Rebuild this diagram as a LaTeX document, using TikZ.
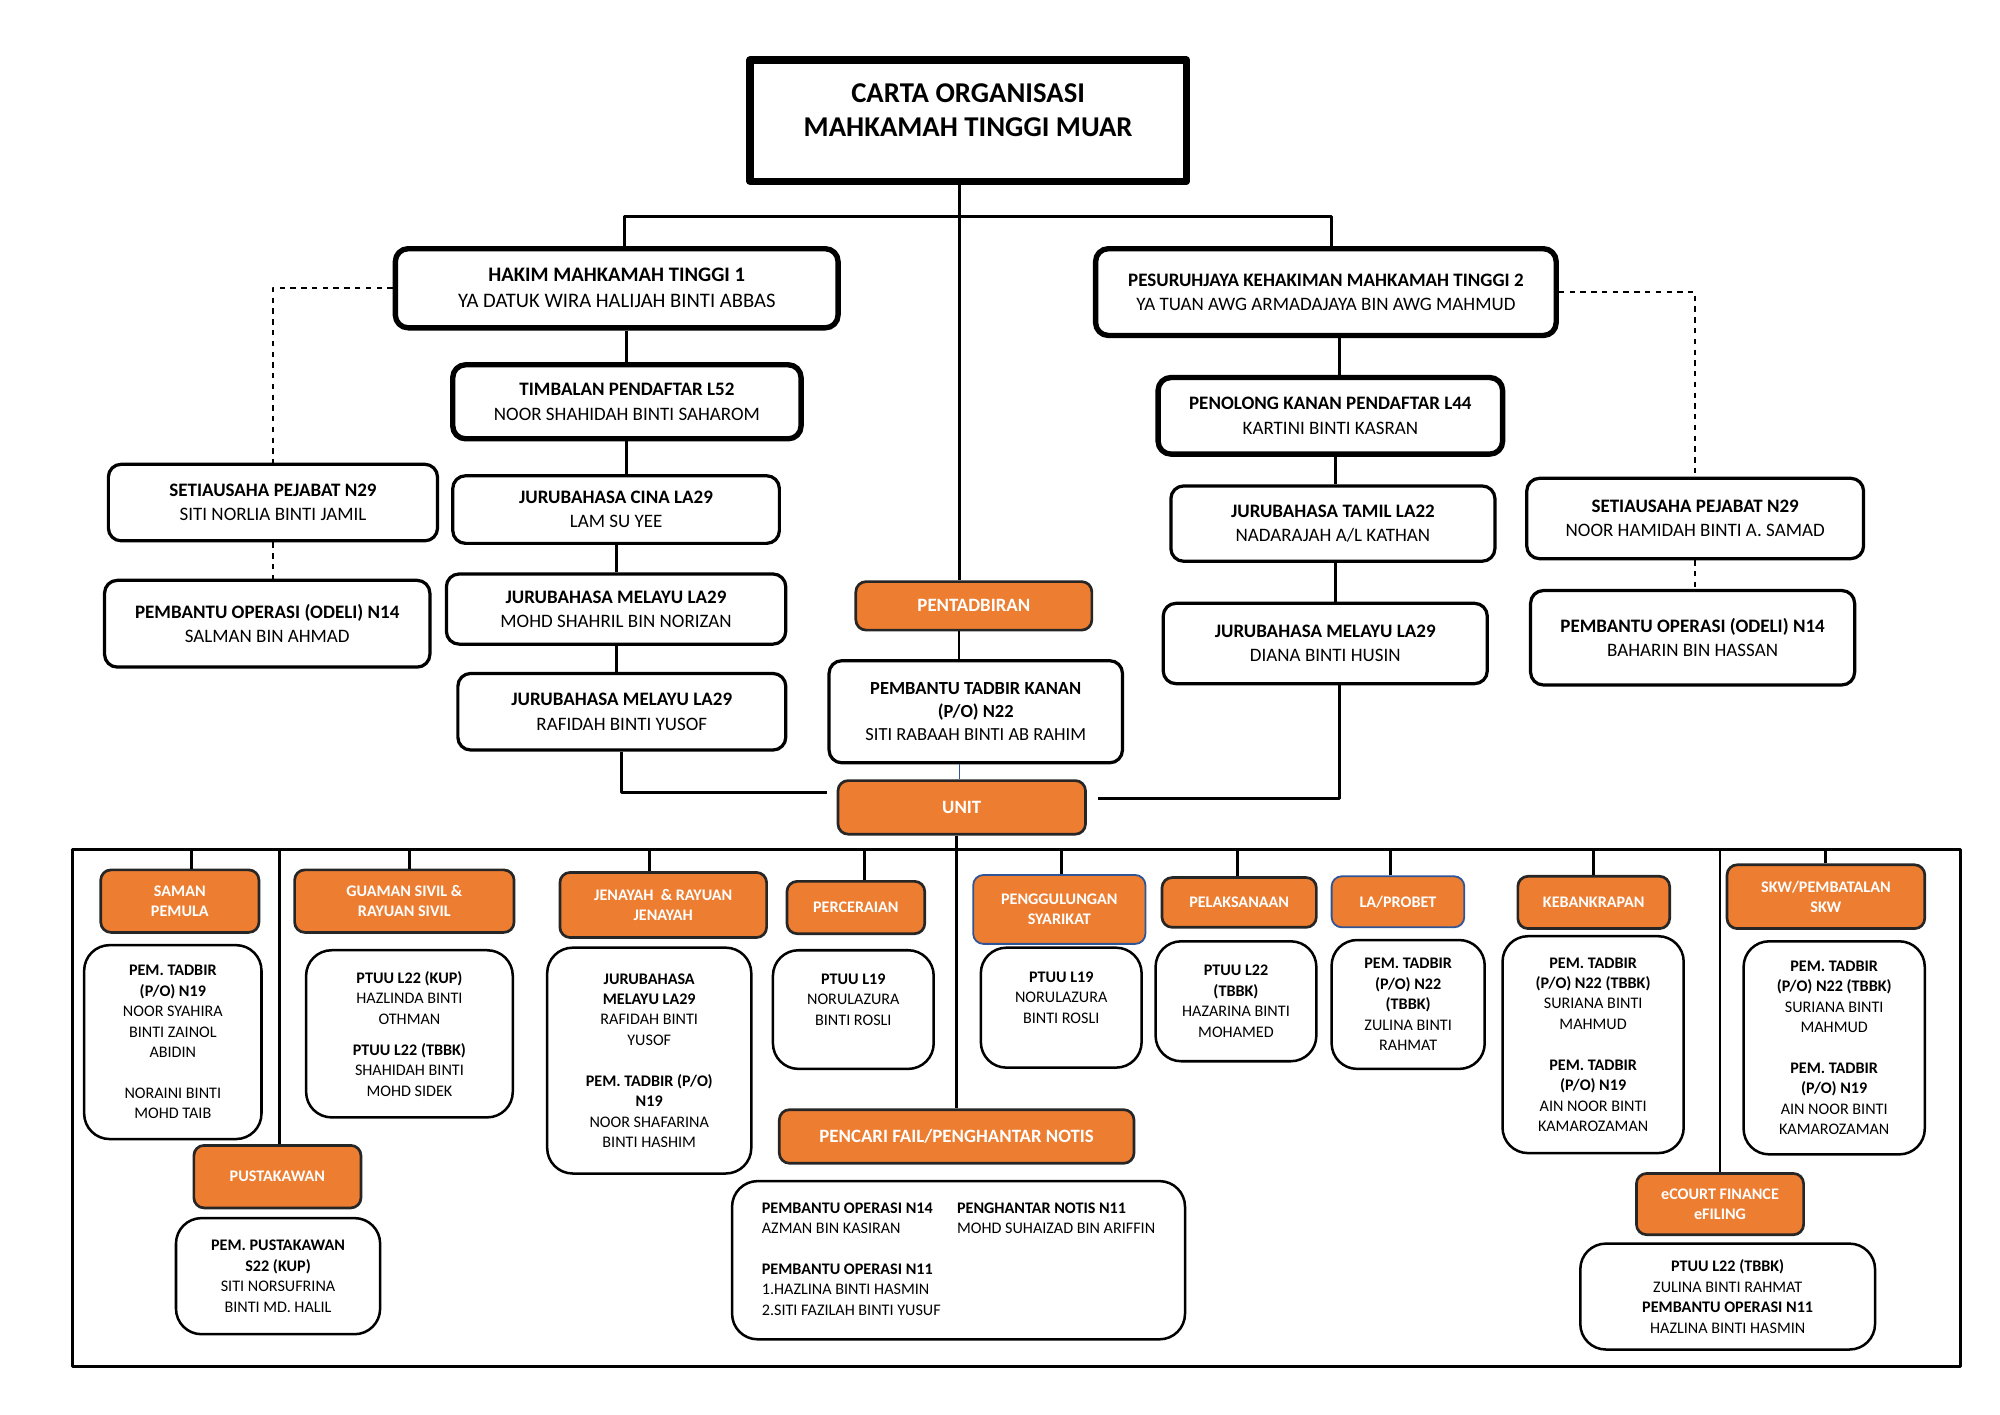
\documentclass[tikz,border=0pt]{standalone}
\usepackage{fontspec}
\setmainfont{Carlito}
\definecolor{unit_orange}{HTML}{ED7D31}
\definecolor{unit_blue}{HTML}{2F5597}
\begin{document}
\begin{tikzpicture}[x=0.025cm, y=-0.025cm, line join=round]
    \tikzstyle{title_style} = [draw, line width=4pt, minimum width=8.55cm, minimum height=2.375cm]
    \tikzstyle{title_text} = [align=center, yshift=0.2cm, font=\bfseries\fontsize{16}{19.2}\selectfont]
    \tikzstyle{head_style} = [draw, rounded corners=0.25cm, line width=3pt, align=center, font=\fontsize{10.6}{13.5}\selectfont]
    \tikzstyle{post_style} = [draw, rounded corners=0.25cm, line width=1.8pt, align=center, font=\fontsize{10.6}{13.5}\selectfont]
    \tikzstyle{unit_style} = [draw=black!85, fill=unit_orange, rounded corners=0.2cm, line width=1.5pt, text=white, align=center, font=\bfseries\fontsize{10.5}{12.8}\selectfont]
    \tikzstyle{sub_style} = [unit_style, font=\bfseries\fontsize{9}{11.4}\selectfont]
    \tikzstyle{sub_blue} = [sub_style, draw=unit_blue, line width=1pt]
    \tikzstyle{staff_style} = [draw, rounded corners=0.5cm, line width=1.4pt, align=center, font=\fontsize{9}{11.4}\selectfont]
    \tikzstyle{frame_style} = [draw, line width=1.7pt, minimum width=37cm, minimum height=10.125cm]
    \tikzstyle{edge_style} = [draw=black, line width=1.6pt]
    \tikzstyle{dash_style} = [draw=black, line width=1.1pt, dashed]

    \useasboundingbox (0,0) rectangle (1568,1108.6);

    % top of the chart
    \node[title_style, label={[title_text]center:{CARTA ORGANISASI\\MAHKAMAH TINGGI MUAR}}] (title) at (759,94.5) {};
    \coordinate (split) at (752,170);

    \node[head_style, minimum width=8.675cm, minimum height=1.55cm, font=\fontsize{11.5}{14.5}\selectfont] (hakim) at (483.5,226) {\textbf{HAKIM MAHKAMAH TINGGI 1}\\YA DATUK WIRA HALIJAH BINTI ABBAS};
    \node[head_style, minimum width=6.825cm, minimum height=1.45cm] (timbalan) at (491.5,315) {\textbf{TIMBALAN PENDAFTAR L52}\\NOOR SHAHIDAH BINTI SAHAROM};
    \node[post_style, minimum width=6.4cm, minimum height=1.325cm] (jcina) at (483,399.5) {\textbf{JURUBAHASA CINA LA29}\\LAM SU YEE};
    \node[post_style, minimum width=6.65cm, minimum height=1.375cm] (jmelayu1) at (483,477.5) {\textbf{JURUBAHASA MELAYU LA29}\\MOHD SHAHRIL BIN NORIZAN};
    \node[post_style, minimum width=6.425cm, minimum height=1.5cm] (jmelayu2) at (487.5,558) {\textbf{JURUBAHASA MELAYU LA29}\\RAFIDAH BINTI YUSOF};
    \node[post_style, minimum width=6.45cm, minimum height=1.5cm] (setia1) at (214,394) {\textbf{SETIAUSAHA PEJABAT N29}\\SITI NORLIA BINTI JAMIL};
    \node[post_style, minimum width=6.375cm, minimum height=1.7cm] (odeli1) at (209.5,489) {\textbf{PEMBANTU OPERASI (ODELI) N14}\\SALMAN BIN AHMAD};

    \node[head_style, minimum width=9.025cm, minimum height=1.7cm] (pjk) at (1039.5,229) {\textbf{PESURUHJAYA KEHAKIMAN MAHKAMAH TINGGI 2}\\YA TUAN AWG ARMADAJAYA BIN AWG MAHMUD};
    \node[head_style, minimum width=6.75cm, minimum height=1.5cm] (penolong) at (1043,326) {\textbf{PENOLONG KANAN PENDAFTAR L44}\\KARTINI BINTI KASRAN};
    \node[post_style, minimum width=6.35cm, minimum height=1.475cm] (jtamil) at (1045,410.5) {\textbf{JURUBAHASA TAMIL LA22}\\NADARAJAH A/L KATHAN};
    \node[post_style, minimum width=6.35cm, minimum height=1.575cm] (jmelayu3) at (1039,504.5) {\textbf{JURUBAHASA MELAYU LA29}\\DIANA BINTI HUSIN};
    \node[post_style, minimum width=6.6cm, minimum height=1.575cm] (setia2) at (1329,406.5) {\textbf{SETIAUSAHA PEJABAT N29}\\NOOR HAMIDAH BINTI A. SAMAD};
    \node[post_style, minimum width=6.35cm, minimum height=1.85cm] (odeli2) at (1327,500) {\textbf{PEMBANTU OPERASI (ODELI) N14}\\BAHARIN BIN HASSAN};

    \node[unit_style, minimum width=4.625cm, minimum height=0.95cm] (pentadbiran) at (763.5,475) {PENTADBIRAN};
    \node[post_style, minimum width=5.75cm, minimum height=2cm, font=\fontsize{10.3}{12.8}\selectfont] (ptk) at (765,558) {\textbf{PEMBANTU TADBIR KANAN}\\\textbf{(P/O) N22}\\SITI RABAAH BINTI AB RAHIM};
    \node[unit_style, minimum width=4.85cm, minimum height=1.05cm] (unit) at (754,633) {UNIT};

    % units
    \node[frame_style] (frame) at (797,868.5) {};

    \node[sub_style, minimum width=3.1cm, minimum height=1.225cm] (saman) at (141,706.5) {SAMAN\\PEMULA};
    \node[sub_style, minimum width=4.3cm, minimum height=1.225cm] (guaman) at (317,706.5) {GUAMAN SIVIL \&\\RAYUAN SIVIL};
    \node[sub_style, minimum width=4.05cm, minimum height=1.275cm] (jenayah) at (520,709.5) {JENAYAH \ \& RAYUAN\\JENAYAH};
    \node[sub_style, minimum width=2.7cm, minimum height=1.025cm] (cerai) at (671,711.5) {PERCERAIAN};
    \node[sub_blue, minimum width=3.375cm, minimum height=1.35cm] (gulung) at (830.5,713) {PENGGULUNGAN\\SYARIKAT};
    \node[sub_style, minimum width=3.025cm, minimum height=0.975cm] (laksana) at (971.5,707.5) {PELAKSANAAN};
    \node[sub_blue, minimum width=2.6cm, minimum height=1cm] (probet) at (1096,707) {LA/PROBET};
    \node[sub_style, minimum width=2.975cm, minimum height=1.025cm] (bankrap) at (1249.5,707.5) {KEBANKRAPAN};
    \node[sub_style, minimum width=3.875cm, minimum height=1.25cm] (skw) at (1431.5,703) {SKW/PEMBATALAN\\SKW};
    \node[sub_style, minimum width=3.275cm, minimum height=1.225cm] (pustaka) at (217.5,922.5) {PUSTAKAWAN};
    \node[unit_style, minimum width=6.95cm, minimum height=1.05cm] (pencari) at (750,891) {PENCARI FAIL/PENGHANTAR NOTIS};
    \node[sub_style, minimum width=3.275cm, minimum height=1.2cm] (ecourt) at (1348.5,944) {eCOURT FINANCE\\eFILING};

    \node[staff_style, minimum width=3.475cm, minimum height=3.8cm] (saman_s) at (135.5,817) {\textbf{PEM. TADBIR}\\\textbf{(P/O) N19}\\NOOR SYAHIRA\\BINTI ZAINOL\\ABIDIN\\[11.4pt]NORAINI BINTI\\MOHD TAIB};
    \node[staff_style, minimum width=4.05cm, minimum height=3.275cm] (guaman_s) at (321,810.5) {\textbf{PTUU L22 (KUP)}\\HAZLINDA BINTI\\OTHMAN\\[6pt]\textbf{PTUU L22 (TBBK)}\\SHAHIDAH BINTI\\MOHD SIDEK};
    \node[staff_style, minimum width=4cm, minimum height=4.425cm] (jenayah_s) at (509,831.5) {\textbf{JURUBAHASA}\\\textbf{MELAYU LA29}\\RAFIDAH BINTI\\YUSOF\\[11.4pt]\textbf{PEM. TADBIR (P/O)}\\\textbf{N19}\\NOOR SHAFARINA\\BINTI HASHIM};
    \node[staff_style, minimum width=3.15cm, minimum height=2.325cm] (cerai_s) at (669,791.5) {\textbf{PTUU L19}\\NORULAZURA\\BINTI ROSLI\\\mbox{}};
    \node[staff_style, minimum width=3.15cm, minimum height=2.35cm] (gulung_s) at (832,790) {\textbf{PTUU L19}\\NORULAZURA\\BINTI ROSLI\\\mbox{}};
    \node[staff_style, minimum width=3.15cm, minimum height=2.35cm] (laksana_s) at (969,785) {\textbf{PTUU L22}\\\textbf{(TBBK)}\\HAZARINA BINTI\\MOHAMED};
    \node[staff_style, minimum width=3cm, minimum height=2.525cm] (probet_s) at (1104,787.5) {\textbf{PEM. TADBIR}\\\textbf{(P/O) N22}\\\textbf{(TBBK)}\\ZULINA BINTI\\RAHMAT};
    \node[staff_style, minimum width=3.55cm, minimum height=4.25cm] (bankrap_s) at (1249,819) {\textbf{PEM. TADBIR}\\\textbf{(P/O) N22 (TBBK)}\\SURIANA BINTI\\MAHMUD\\[11.4pt]\textbf{PEM. TADBIR}\\\textbf{(P/O) N19}\\AIN NOOR BINTI\\KAMAROZAMAN};
    \node[staff_style, minimum width=3.55cm, minimum height=4.175cm] (skw_s) at (1438,821.5) {\textbf{PEM. TADBIR}\\\textbf{(P/O) N22 (TBBK)}\\SURIANA BINTI\\MAHMUD\\[11.4pt]\textbf{PEM. TADBIR}\\\textbf{(P/O) N19}\\AIN NOOR BINTI\\KAMAROZAMAN};
    \node[staff_style, minimum width=4cm, minimum height=2.275cm] (pustaka_s) at (218,1000.5) {\textbf{PEM. PUSTAKAWAN}\\\textbf{S22 (KUP)}\\SITI NORSUFRINA\\BINTI MD. HALIL};
    \node[staff_style, minimum width=8.875cm, minimum height=3.1cm] (pencari_s) at (751.5,988) {\begin{tabular}{@{}p{3.825cm}@{}l@{}}
        \textbf{PEMBANTU OPERASI N14} & \textbf{PENGHANTAR NOTIS N11}\\
        AZMAN BIN KASIRAN & MOHD SUHAIZAD BIN ARIFFIN\\[11.4pt]
        \textbf{PEMBANTU OPERASI N11} & \\
        1.HAZLINA BINTI HASMIN & \\
        2.SITI FAZILAH BINTI YUSUF &
    \end{tabular}};
    \node[staff_style, minimum width=5.775cm, minimum height=2.075cm] (ecourt_s) at (1354.5,1016.5) {\textbf{PTUU L22 (TBBK)}\\ZULINA BINTI RAHMAT\\\textbf{PEMBANTU OPERASI N11}\\HAZLINA BINTI HASMIN};

    % connectors
    \draw[edge_style] (split |- title.south) -- (split |- pentadbiran.north);
    \draw[edge_style] ([xshift=0.16cm]hakim.north) |- (split) -| ([xshift=0.11cm]pjk.north);
    \draw[edge_style] (hakim.south -| timbalan.north) -- (timbalan.north);
    \draw[edge_style] (timbalan.south) -- (timbalan.south |- jcina.north);
    \draw[edge_style] (jcina.south) -- (jcina.south |- jmelayu1.north);
    \draw[edge_style] (jmelayu1.south) -- (jmelayu1.south |- jmelayu2.north);
    \draw[edge_style] (jmelayu2.south) |- ([xshift=-0.18cm,yshift=0.3cm]unit.west);
    \draw[edge_style] ([xshift=0.175cm]pjk.south -| penolong.north) -- ([xshift=0.175cm]penolong.north);
    \draw[edge_style] ([xshift=0.05cm]jtamil.north |- penolong.south) -- ([xshift=0.05cm]jtamil.north);
    \draw[edge_style] ([xshift=0.05cm]jtamil.south) -- ([xshift=0.05cm]jtamil.south |- jmelayu3.north);
    \draw[edge_style] ([xshift=0.275cm]jmelayu3.south) |- ([xshift=0.22cm,yshift=0.175cm]unit.east);
    \draw[dash_style] (hakim.west) -| (setia1.north);
    \draw[dash_style] (setia1.south) -- (setia1.south |- odeli1.north);
    \draw[dash_style] (pjk.east) -| (setia2.north);
    \draw[dash_style] (setia2.south) -- (setia2.south |- odeli2.north);
    \draw[draw=black, line width=0.8pt] (pentadbiran.south -| split) -- (ptk.north -| split);
    \draw[draw=unit_blue, line width=0.6pt] (ptk.south -| split) -- (unit.north -| split);
    \draw[edge_style] (unit.south -| pencari.north) -- (pencari.north);
    \foreach \n/\dx in {saman/9,guaman/4,jenayah/-11,cerai/7,gulung/1.5,laksana/-1.5,probet/-6,bankrap/0,skw/0,pustaka/1.5,ecourt/0}
        \draw[edge_style] ([xshift=\dx*0.025cm]\n.north) -- ([xshift=\dx*0.025cm]\n.north |- frame.north);
\end{tikzpicture}
\end{document}
